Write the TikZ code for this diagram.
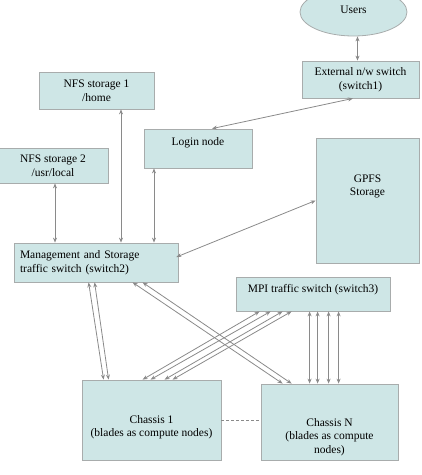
\documentclass[tikz,border=0pt]{standalone}
\usepackage{fontspec}
\setmainfont{Liberation Serif}
\usetikzlibrary{arrows.meta,shapes.geometric}
\definecolor{boxfill}{RGB}{206,230,230}
\definecolor{boxline}{RGB}{168,172,172}
\definecolor{linkgray}{RGB}{138,138,138}
\tikzset{
  unit/.style={draw=boxline, fill=boxfill, line width=0.8pt, inner sep=0pt,
    font=\fontsize{11.5}{13.5}\selectfont, align=center},
  link/.style={draw=linkgray, line width=0.8pt, {Stealth[length=5pt,width=4pt]}-{Stealth[length=5pt,width=4pt]}}
}
\begin{document}
\begin{tikzpicture}[x=1pt,y=-1pt]
\useasboundingbox (0,0) rectangle (422,475);

\node[unit, ellipse, minimum width=107pt, minimum height=48pt] (users) at (353.5,12) {};
\node[font=\fontsize{11.5}{13.5}\selectfont] (userstxt) at (353.5,10) {Users};
\node[unit, minimum width=117pt, minimum height=37pt] (ext) at (360.5,79.5) {External n/w switch\\(switch1)};
\node[unit, minimum width=115pt, minimum height=37pt] (nfsa) at (96.5,90.5) {NFS storage 1\\/home};
\node[unit, minimum width=108pt, minimum height=39pt,
  label={[font=\fontsize{11.5}{13.5}\selectfont, yshift=6pt]center:Login node}] (login) at (198,148.5) {};
\node[unit, minimum width=110pt, minimum height=35pt] (nfsb) at (53,165.5) {NFS storage 2\\/usr/local};
\node[unit, minimum width=103pt, minimum height=125pt,
  label={[font=\fontsize{11.5}{13.5}\selectfont, align=center, yshift=14pt]center:GPFS\\Storage}] (gpfs) at (367.5,200.5) {};
\node[unit, minimum width=164pt, minimum height=39pt, text width=152pt, align=left] (mgmt) at (96,262.5) {Management and Storage\\traffic switch (switch2)};
\node[unit, minimum width=154pt, minimum height=34pt,
  label={[font=\fontsize{11.5}{13.5}\selectfont, yshift=4pt]center:MPI traffic switch (switch3)}] (mpi) at (313,294) {};
\node[unit, minimum width=139pt, minimum height=80pt,
  label={[font=\fontsize{11.5}{13.5}\selectfont, align=center, yshift=-7pt]center:Chassis 1\\(blades as compute nodes)}] (chA) at (151.5,420) {};
\node[unit, minimum width=137pt, minimum height=76pt,
  label={[font=\fontsize{11.5}{13.5}\selectfont, align=center, yshift=-15pt]center:Chassis N\\(blades as compute\\nodes)}] (chN) at (329.5,422) {};

\draw[link] ([xshift=4pt]users.south) -- ([xshift=4pt]users.south |- ext.north);
\draw[link] ([xshift=-7.5pt]ext.south) -- ([xshift=14pt]login.north);
\draw[link] ([xshift=24.5pt]nfsa.south) -- ([xshift=24.5pt]nfsa.south |- mgmt.north);
\draw[link] ([xshift=-44pt]login.south) -- ([xshift=-44pt]login.south |- mgmt.north);
\draw[link] ([xshift=2pt]nfsb.south) -- ([xshift=2pt]nfsb.south |- mgmt.north);
\draw[link] (gpfs.west) -- ([shift={(-2pt,5.5pt)}]mgmt.east);

\draw[link] ([xshift=75pt]mgmt.south west) -- ([xshift=22pt]chA.north west);
\draw[link] ([xshift=81pt]mgmt.south west) -- ([xshift=27pt]chA.north west);
\draw[link] ([xshift=119pt]mgmt.south west) -- ([xshift=22pt]chN.north west);
\draw[link] ([xshift=129pt]mgmt.south west) -- ([xshift=31pt]chN.north west);

\draw[link] ([xshift=24pt]mpi.south west) -- ([xshift=61pt]chA.north west);
\draw[link] ([xshift=35pt]mpi.south west) -- ([xshift=69pt]chA.north west);
\draw[link] ([xshift=47pt]mpi.south west) -- ([xshift=83pt]chA.north west);
\draw[link] ([xshift=56pt]mpi.south west) -- ([xshift=91pt]chA.north west);

\draw[link] ([xshift=74pt]mpi.south west) -- ([xshift=74pt]mpi.south west |- chN.north);
\draw[link] ([xshift=82pt]mpi.south west) -- ([xshift=82pt]mpi.south west |- chN.north);
\draw[link] ([xshift=93pt]mpi.south west) -- ([xshift=93pt]mpi.south west |- chN.north);
\draw[link] ([xshift=103pt]mpi.south west) -- ([xshift=103pt]mpi.south west |- chN.north);

\draw[linkgray, line width=0.8pt, dash pattern=on 3pt off 2pt] (chA.east) -- (chA.east -| chN.west);

\end{tikzpicture}
\end{document}
